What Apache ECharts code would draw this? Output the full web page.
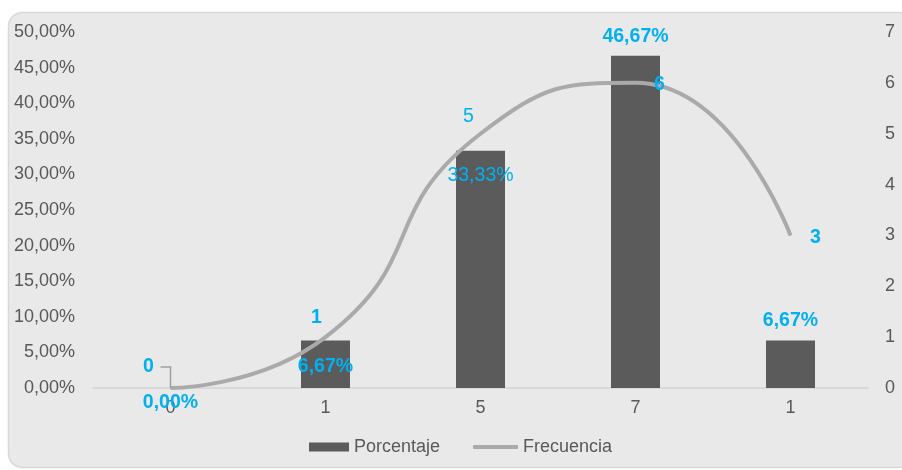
<!DOCTYPE html>
<html>
<head>
<meta charset="utf-8">
<script src="https://cdn.jsdelivr.net/npm/echarts@6/dist/echarts.min.js"></script>
<style>
  html, body { margin: 0; padding: 0; background: #ffffff; }
  #chart { width: 902px; height: 470px; }
</style>
</head>
<body>
<div id="chart"></div>
<script>
// Category labels along the x axis
const categories = ['0', '1', '5', '7', '1'];
// Bar series: share of responses (%)
const porcentaje = [0, 6.67, 33.33, 46.67, 6.67];
// Line series: absolute frequency
const frecuencia = [0, 1, 5, 6, 3];
// Axis ranges
const leftAxisMax = 50;
const leftAxisStep = 5;
const rightAxisMax = 7;
const rightAxisStep = 1;

const BLUE = '#00b0f0';
const GREY_TEXT = '#595959';
const LINE_GREY = '#aaaaaa';
const FONT = '"Liberation Sans", Arial, sans-serif';

const pct = v => v.toFixed(2).replace('.', ',') + '%';

// Label placement for each bar label
const barLabelPlacement = [
  { position: 'bottom', distance: 5, fontWeight: 'bold' },
  { position: 'insideBottom', distance: 11, fontWeight: 'bold' },
  { position: 'insideTop', distance: 15, fontWeight: 'normal' },
  { position: 'top', distance: 9, fontWeight: 'bold' },
  { position: 'top', distance: 10, fontWeight: 'bold' }
];
// Shift of each line label away from its point
const lineLabelShift = [
  { dx: -22, dy: -21, fontWeight: 'bold' },
  { dx: -9, dy: -20, fontWeight: 'bold' },
  { dx: -12, dy: -17, fontWeight: 'normal' },
  { dx: 24, dy: 2, fontWeight: 'bold' },
  { dx: 25, dy: 2, fontWeight: 'bold' }
];

const barData = porcentaje.map((v, i) => ({
  value: v,
  label: barLabelPlacement[i]
}));
const lineData = frecuencia.map((v, i) => ({
  value: v,
  label: { fontWeight: lineLabelShift[i].fontWeight }
}));

const chart = echarts.init(document.getElementById('chart'), null, { renderer: 'canvas' });

chart.setOption({
  animation: false,
  backgroundColor: '#ffffff',
  textStyle: { fontFamily: FONT },
  graphic: [{
    id: 'panel',
    type: 'rect',
    z: -10,
    silent: true,
    shape: { x: 8.5, y: 12.5, width: 905, height: 455, r: 14 },
    style: { fill: '#e9e9e9', stroke: '#d9d9d9', lineWidth: 1.5 }
  }],
  grid: { left: 93, right: 34, top: 32, bottom: 82 },
  legend: [{
    data: ['Porcentaje'],
    left: 304,
    top: 433,
    itemWidth: 40,
    itemHeight: 9,
    icon: 'rect',
    textStyle: { fontSize: 18, color: GREY_TEXT, fontFamily: FONT }
  }, {
    data: ['Frecuencia'],
    left: 468,
    top: 433,
    itemWidth: 45,
    itemHeight: 4,
    icon: 'roundRect',
    itemStyle: { color: LINE_GREY },
    textStyle: { fontSize: 18, color: GREY_TEXT, fontFamily: FONT }
  }],
  xAxis: {
    type: 'category',
    data: categories,
    axisLine: { lineStyle: { color: '#d4d4d4', width: 1.5 } },
    axisTick: { show: false },
    axisLabel: { color: GREY_TEXT, fontSize: 18, margin: 11, fontFamily: FONT },
    splitLine: { show: false }
  },
  yAxis: [{
    type: 'value',
    min: 0,
    max: leftAxisMax,
    interval: leftAxisStep,
    axisLine: { show: false },
    axisTick: { show: false },
    splitLine: { show: false },
    axisLabel: { color: GREY_TEXT, fontSize: 18, margin: 18, fontFamily: FONT, formatter: v => pct(v) }
  }, {
    type: 'value',
    min: 0,
    max: rightAxisMax,
    interval: rightAxisStep,
    position: 'right',
    axisLine: { show: false },
    axisTick: { show: false },
    splitLine: { show: false },
    axisLabel: { color: GREY_TEXT, fontSize: 18, margin: 17, fontFamily: FONT }
  }],
  series: [{
    name: 'Porcentaje',
    type: 'bar',
    yAxisIndex: 0,
    barWidth: 49,
    itemStyle: { color: '#5b5b5b' },
    data: barData,
    z: 2,
    label: {
      show: true,
      color: BLUE,
      fontSize: 19.5,
      fontFamily: FONT,
      formatter: p => pct(p.value)
    }
  }, {
    name: 'Frecuencia',
    type: 'line',
    yAxisIndex: 1,
    smooth: 0.55,
    symbol: 'circle',
    symbolSize: 1,
    itemStyle: { color: LINE_GREY },
    lineStyle: { color: LINE_GREY, width: 4 },
    data: lineData,
    z: 3,
    label: {
      show: true,
      position: 'inside',
      color: BLUE,
      fontSize: 19.5,
      fontFamily: FONT
    },
    labelLayout: p => ({ dx: lineLabelShift[p.dataIndex].dx, dy: lineLabelShift[p.dataIndex].dy })
  }]
});

// Elbow leader joining the first frequency label to its point
const first = chart.convertToPixel({ xAxisIndex: 0, yAxisIndex: 1 }, [0, frecuencia[0]]);
const shift = lineLabelShift[0];
chart.setOption({
  graphic: [{
    id: 'leader',
    type: 'polyline',
    z: 10,
    silent: true,
    shape: {
      points: [
        [first[0] + shift.dx + 12, first[1] + shift.dy],
        [first[0], first[1] + shift.dy],
        [first[0], first[1]]
      ]
    },
    style: { stroke: '#a0a0a0', lineWidth: 1.5, fill: null }
  }]
});
</script>
</body>
</html>
